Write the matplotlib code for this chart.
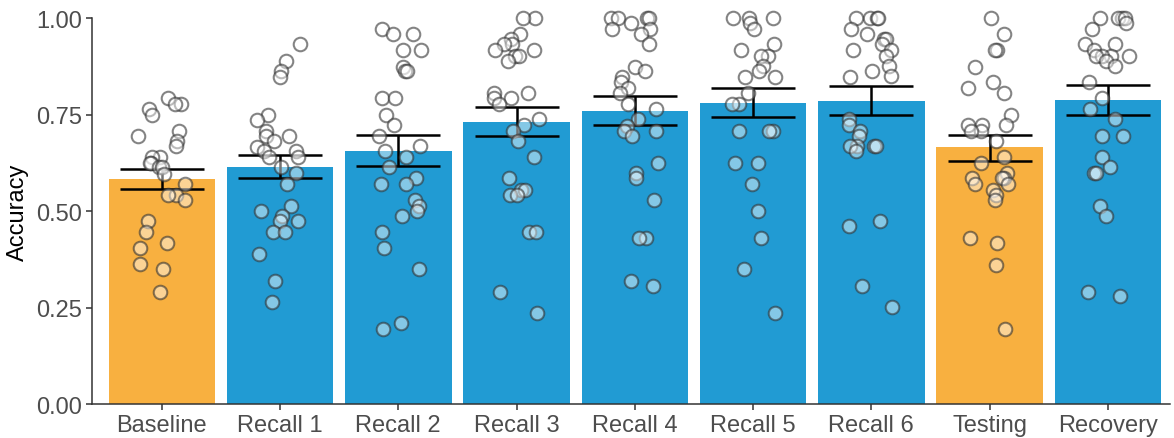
import matplotlib
matplotlib.use("Agg")
import matplotlib.pyplot as plt
import numpy as np

plt.rcParams['font.family'] = ['Liberation Sans', 'DejaVu Sans']

categories = ["Baseline", "Recall 1", "Recall 2", "Recall 3", "Recall 4",
              "Recall 5", "Recall 6", "Testing", "Recovery"]
bar_means = [0.584, 0.614, 0.655, 0.732, 0.759, 0.780, 0.785, 0.666, 0.789]
bar_lower = [0.558, 0.586, 0.618, 0.695, 0.724, 0.745, 0.750, 0.631, 0.750]
bar_upper = [0.610, 0.646, 0.697, 0.771, 0.798, 0.820, 0.824, 0.699, 0.827]
is_control = [True, False, False, False, False, False, False, True, False]

baseline = [0.794, 0.778, 0.778, 0.765, 0.750, 0.709, 0.694, 0.681, 0.670,
            0.640, 0.640, 0.625, 0.625, 0.614, 0.614, 0.597, 0.571, 0.543,
            0.543, 0.529, 0.474, 0.445, 0.418, 0.404, 0.363, 0.350, 0.291]
recall1 = [0.934, 0.889, 0.863, 0.847, 0.750, 0.738, 0.709, 0.694, 0.694,
           0.681, 0.666, 0.657, 0.657, 0.640, 0.640, 0.614, 0.599, 0.571,
           0.514, 0.501, 0.487, 0.474, 0.474, 0.445, 0.445, 0.389, 0.320, 0.264]
recall2 = [0.974, 0.960, 0.960, 0.918, 0.918, 0.875, 0.863, 0.863, 0.793,
           0.793, 0.750, 0.724, 0.696, 0.670, 0.655, 0.640, 0.614, 0.585,
           0.571, 0.571, 0.530, 0.514, 0.501, 0.487, 0.445, 0.404, 0.350,
           0.210, 0.195]
recall3 = [1.0, 1.0, 0.960, 0.947, 0.934, 0.934, 0.918, 0.918, 0.904, 0.904,
           0.891, 0.808, 0.808, 0.793, 0.793, 0.778, 0.739, 0.724, 0.709,
           0.681, 0.640, 0.585, 0.556, 0.556, 0.543, 0.543, 0.445, 0.445,
           0.291, 0.236]
recall4 = [1.0, 1.0, 1.0, 1.0, 0.988, 0.974, 0.974, 0.960, 0.934, 0.875,
           0.863, 0.849, 0.836, 0.820, 0.808, 0.778, 0.765, 0.739, 0.722,
           0.709, 0.709, 0.694, 0.625, 0.599, 0.585, 0.529, 0.431, 0.431,
           0.320, 0.305]
recall5 = [1.0, 1.0, 1.0, 0.988, 0.974, 0.934, 0.918, 0.904, 0.904, 0.876,
           0.863, 0.849, 0.849, 0.808, 0.778, 0.778, 0.709, 0.709, 0.709,
           0.625, 0.625, 0.571, 0.501, 0.431, 0.350, 0.236]
recall6 = [1.0, 1.0, 1.0, 1.0, 0.974, 0.960, 0.947, 0.947, 0.934, 0.918,
           0.918, 0.904, 0.876, 0.865, 0.852, 0.847, 0.739, 0.724, 0.709,
           0.694, 0.670, 0.670, 0.670, 0.670, 0.657, 0.476, 0.461, 0.305,
           0.251]
testing = [1.0, 0.960, 0.918, 0.918, 0.875, 0.836, 0.820, 0.808, 0.750,
           0.724, 0.724, 0.724, 0.709, 0.709, 0.681, 0.642, 0.625, 0.599,
           0.585, 0.585, 0.585, 0.571, 0.571, 0.556, 0.543, 0.529, 0.431,
           0.418, 0.361, 0.195]
recovery = [1.0, 1.0, 1.0, 1.0, 0.988, 0.974, 0.934, 0.934, 0.918, 0.904,
            0.904, 0.904, 0.904, 0.891, 0.876, 0.836, 0.793, 0.765, 0.739,
            0.696, 0.696, 0.640, 0.614, 0.599, 0.599, 0.514, 0.487, 0.291,
            0.281]
points = [baseline, recall1, recall2, recall3, recall4, recall5, recall6,
          testing, recovery]

orange = "#F8B040"
blue = "#219BD3"

fig = plt.figure(figsize=(11.74, 4.39), dpi=100)
ax = fig.add_axes([0.0784, 0.0774, 0.9186, 0.8782])

x = np.arange(len(categories))
colors = [orange if c else blue for c in is_control]
ax.bar(x, bar_means, width=0.9, color=colors, edgecolor="none", zorder=1)

means = np.array(bar_means)
yerr = [means - np.array(bar_lower), np.array(bar_upper) - means]
ax.errorbar(x, means, yerr=yerr, fmt="none", ecolor="black", elinewidth=1.8,
            capsize=30, capthick=1.8, zorder=3)

rng = np.random.default_rng(7)
for i, vals in enumerate(points):
    jit = rng.uniform(-0.2, 0.2, len(vals))
    ax.scatter(x[i] + jit, vals, s=95, facecolor=(1, 1, 1, 0.45),
               edgecolor=(0.2, 0.2, 0.2, 0.6), linewidth=1.5, zorder=4,
               clip_on=False)

ax.set_xlim(-0.59, 8.53)
ax.set_ylim(0, 1.0)
ax.set_yticks([0, 0.25, 0.5, 0.75, 1.0])
ax.set_yticklabels(["0.00", "0.25", "0.50", "0.75", "1.00"])
ax.set_xticks(x)
ax.set_xticklabels(categories)
ax.set_ylabel("Accuracy", fontsize=17, color="black", labelpad=5)

for side in ["top", "right"]:
    ax.spines[side].set_visible(False)
for side in ["left", "bottom"]:
    ax.spines[side].set_color("#333333")
    ax.spines[side].set_linewidth(1.1)
ax.tick_params(axis="both", labelsize=17, labelcolor="#4D4D4D",
               color="#333333", length=4, width=1.1, pad=3)

fig.savefig("out.png", dpi=100)
